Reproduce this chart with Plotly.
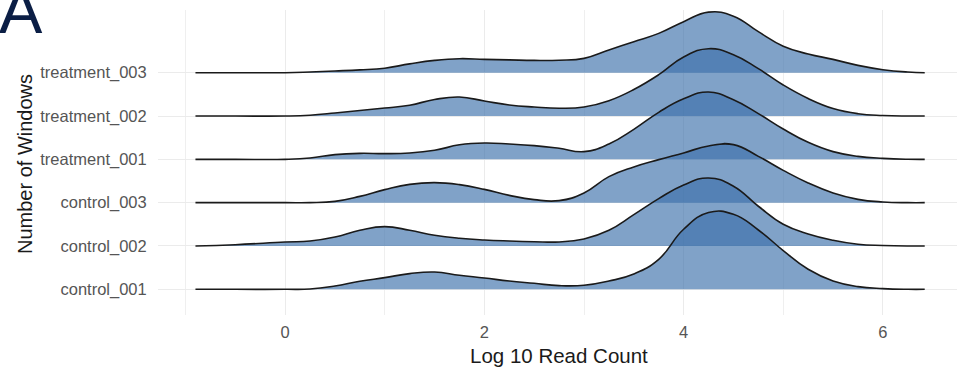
import plotly.graph_objects as go

# ---- data ----
categories = ["control_001", "control_002", "control_003",
              "treatment_001", "treatment_002", "treatment_003"]

log10_read_count = [-0.9, -0.5, 0, 0.25, 0.5, 0.75, 1, 1.25, 1.5, 1.75, 2, 2.25,
                    2.5, 2.75, 3, 3.25, 3.5, 3.75, 4, 4.25, 4.5, 4.75, 5, 5.25,
                    5.5, 5.75, 6, 6.25, 6.42]

# ridge heights (relative density, 43.3 = one ridge spacing)
control_001 = [0, 0, 0, 0.3, 3.3, 8, 11.7, 15.7, 17.3, 14, 11.3, 8.3, 6, 3.7, 4,
               8.3, 15.3, 30, 60, 76.7, 75, 59.3, 38.7, 20, 8.3, 2.7, 0.7, 0, 0]
control_002 = [0, 1.3, 4, 5, 9, 15.7, 19.3, 15.7, 10.7, 7.7, 6, 5, 4.3, 4, 7,
               15.7, 31.3, 47.3, 61, 68, 59.7, 39.7, 21.7, 12, 5.7, 1.7, 0.5, 0, 0]
control_003 = [0, 0, 0, 0, 1.3, 6.3, 13, 18.3, 20, 18, 13.3, 7.3, 3, 2, 9.7,
               26, 35.7, 43, 49.7, 56.7, 58, 46.3, 32.3, 19.7, 9.7, 3.3, 0.7, 0, 0]
treatment_001 = [0, 0, 0, 1.3, 4.7, 6, 5.7, 6.3, 9, 14.5, 16.3, 15.3, 13.7, 11, 7.7,
                 15.3, 30, 47, 60.5, 67.3, 59.5, 45.7, 30.3, 17, 7.7, 3, 1, 0.1, 0]
treatment_002 = [0, 0, 0, 0.8, 3, 5.5, 8, 10.8, 16.5, 19, 15, 11, 9, 7.8, 9,
                 15.3, 26.5, 41.3, 59, 67.3, 61.3, 47.3, 31, 17.5, 7.5, 2.3, 0.5, 0, 0]
treatment_003 = [0, 0, 0, 0.7, 1.7, 2.8, 4.5, 8.8, 12.3, 14, 13.3, 12.8, 12.3, 12.5, 14.3,
                 22.7, 31, 39.3, 51, 60.5, 56.5, 41, 26.5, 18.7, 13.3, 7.3, 3, 0.7, 0]

heights = {
    "control_001": control_001, "control_002": control_002, "control_003": control_003,
    "treatment_001": treatment_001, "treatment_002": treatment_002, "treatment_003": treatment_003,
}

x_ticks = [0, 2, 4, 6]

# ---- styling ----
SCALE = 1 / 43.3
FILL = "rgba(60,112,171,0.65)"
FONT = "Liberation Sans, Arial, Helvetica, sans-serif"

fig = go.Figure()

# draw from top ridge to bottom ridge so lower ridges sit on top
for cat in reversed(categories):
    base = categories.index(cat) + 1
    h = heights[cat]
    fig.add_trace(go.Scatter(
        x=[log10_read_count[0], log10_read_count[-1]], y=[base, base],
        mode="lines", line=dict(width=0, color="rgba(0,0,0,0)"),
        hoverinfo="skip", showlegend=False))
    fig.add_trace(go.Scatter(
        x=log10_read_count, y=[base + v * SCALE for v in h],
        mode="lines", line=dict(color="#1a1a1a", width=1.6, shape="spline", smoothing=1.3),
        fill="tonexty", fillcolor=FILL, name=cat, showlegend=False))

W, H = 957, 369
L, R, T, B = 158, 0, 10, 54
pw, ph = W - L - R, H - T - B

fig.update_layout(
    width=W, height=H,
    margin=dict(l=L, r=R, t=T, b=B, pad=0),
    paper_bgcolor="white", plot_bgcolor="white",
    font=dict(family=FONT),
    xaxis=dict(
        range=[-1.276, 6.744], tickvals=x_ticks, ticktext=[str(v) for v in x_ticks],
        showgrid=True, gridcolor="#EBEBEB", gridwidth=1.2, zeroline=False,
        showline=False, ticks="outside", ticklen=2, tickcolor="rgba(0,0,0,0)",
        tickfont=dict(size=16.5, color="#555555", family=FONT),
        minor=dict(tickvals=[-1, 1, 3, 5], showgrid=True, gridcolor="#EFEFEF", gridwidth=0.9),
    ),
    yaxis=dict(
        range=[0.407, 7.447], tickvals=list(range(1, len(categories) + 1)), ticktext=categories,
        showgrid=True, gridcolor="#EBEBEB", gridwidth=1.2, zeroline=False,
        showline=False, ticks="outside", ticklen=7, tickcolor="rgba(0,0,0,0)",
        tickfont=dict(size=16.5, color="#555555", family=FONT),
    ),
    annotations=[
        dict(text="Log 10 Read Count", xref="paper", yref="paper",
             x=(559 - L) / pw, y=(T + ph - 355) / ph, xanchor="center", yanchor="middle",
             showarrow=False, font=dict(size=20.5, color="#1a1a1a", family=FONT)),
        dict(text="Number of Windows", xref="paper", yref="paper", textangle=-90,
             x=(25 - L) / pw, y=(T + ph - 164) / ph, xanchor="center", yanchor="middle",
             showarrow=False, font=dict(size=20, color="#1a1a1a", family=FONT)),
        dict(text="A", xref="paper", yref="paper",
             x=(-3 - L) / pw, y=(T + ph - 10) / ph, xanchor="left", yanchor="middle",
             showarrow=False, font=dict(size=65, color="#0B1E45", family=FONT)),
    ],
)

fig.write_html("out.html")
